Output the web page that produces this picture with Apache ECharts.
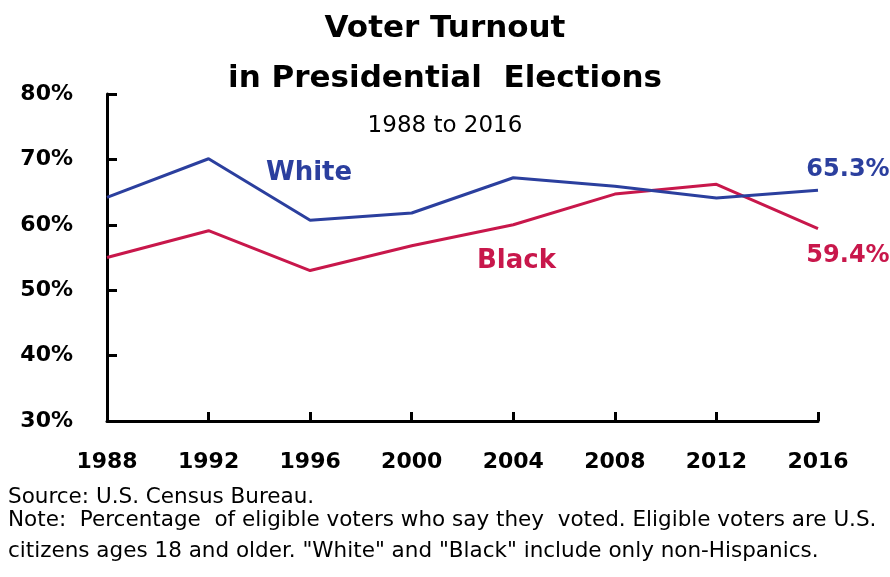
<!DOCTYPE html>
<html>
<head>
<meta charset="utf-8">
<script src="https://cdn.jsdelivr.net/npm/echarts@6/dist/echarts.min.js"></script>
<style>
  html, body { margin: 0; padding: 0; background: #fff; }
  #chart { width: 890px; height: 577px; }
</style>
</head>
<body>
<div id="chart"></div>
<script>
const years = ['1988', '1992', '1996', '2000', '2004', '2008', '2012', '2016'];
const white = [64.2, 70.1, 60.7, 61.8, 67.2, 65.9, 64.1, 65.3];
const black = [55.0, 59.1, 53.0, 56.8, 60.0, 64.7, 66.2, 59.4];
const yTicks = [30, 40, 50, 60, 70, 80];

const BLUE = '#2B3F9E';
const RED = '#C8174B';
const FONT = '"DejaVu Sans", Verdana, sans-serif';

const chart = echarts.init(document.getElementById('chart'), null, { renderer: 'canvas' });

function lastLabel(arr, pos, color, off) {
  return arr.map((v, i) => i === arr.length - 1 ? {
    value: v,
    label: {
      show: true, position: pos, formatter: v.toFixed(1) + '%',
      color: color, fontFamily: FONT, fontWeight: 'bold', fontSize: 24,
      offset: off
    }
  } : v);
}

chart.setOption({
  animation: false,
  backgroundColor: '#fff',
  title: [
    { text: 'Voter Turnout', left: 'center', top: 8,
      textStyle: { fontFamily: FONT, fontWeight: 'bold', fontSize: 31, color: '#000' } },
    { text: 'in Presidential  Elections', left: 'center', top: 58,
      textStyle: { fontFamily: FONT, fontWeight: 'bold', fontSize: 31, color: '#000' } },
    { text: '1988 to 2016', left: 'center', top: 110,
      textStyle: { fontFamily: FONT, fontWeight: 'normal', fontSize: 23, color: '#000' } }
  ],
  grid: { left: 107, right: 72, top: 94, bottom: 156, containLabel: false },
  xAxis: {
    type: 'category', data: years, boundaryGap: false,
    axisLine: { lineStyle: { color: '#000', width: 3 } },
    axisTick: { show: true, inside: true, length: 9, lineStyle: { color: '#000', width: 3 } },
    axisLabel: { color: '#000', fontFamily: FONT, fontWeight: 'bold', fontSize: 22, margin: 30 },
    splitLine: { show: false }
  },
  yAxis: {
    type: 'value', min: yTicks[0], max: yTicks[yTicks.length - 1], interval: 10,
    axisLine: { show: true, lineStyle: { color: '#000', width: 3 } },
    axisTick: { show: true, inside: true, length: 10, lineStyle: { color: '#000', width: 3 } },
    axisLabel: { color: '#000', fontFamily: FONT, fontWeight: 'bold', fontSize: 22, margin: 34,
      formatter: v => v + '%' },
    splitLine: { show: false }
  },
  series: [
    { name: 'White', type: 'line', data: lastLabel(white, 'top', BLUE, [30, -3]),
      symbol: 'circle', symbolSize: 0, showSymbol: true, clip: false,
      lineStyle: { color: BLUE, width: 3 }, itemStyle: { color: BLUE }, z: 3 },
    { name: 'Black', type: 'line', data: lastLabel(black, 'bottom', RED, [30, 10]),
      symbol: 'circle', symbolSize: 0, showSymbol: true, clip: false,
      lineStyle: { color: RED, width: 3 }, itemStyle: { color: RED }, z: 2 }
  ],
  graphic: [
    { type: 'text', left: 266, top: 160,
      style: { text: 'White', fill: BLUE, font: 'bold 26px ' + FONT } },
    { type: 'text', left: 477, top: 248,
      style: { text: 'Black', fill: RED, font: 'bold 26px ' + FONT } },
    { type: 'text', left: 8, top: 486,
      style: { text: 'Source: U.S. Census Bureau.', fill: '#000', font: '21.5px ' + FONT } },
    { type: 'text', left: 8, top: 509,
      style: { text: 'Note:  Percentage  of eligible voters who say they  voted. Eligible voters are U.S.', fill: '#000', font: '21.5px ' + FONT } },
    { type: 'text', left: 8, top: 540,
      style: { text: 'citizens ages 18 and older. "White" and "Black" include only non-Hispanics.', fill: '#000', font: '21.5px ' + FONT } }
  ]
});
</script>
</body>
</html>
